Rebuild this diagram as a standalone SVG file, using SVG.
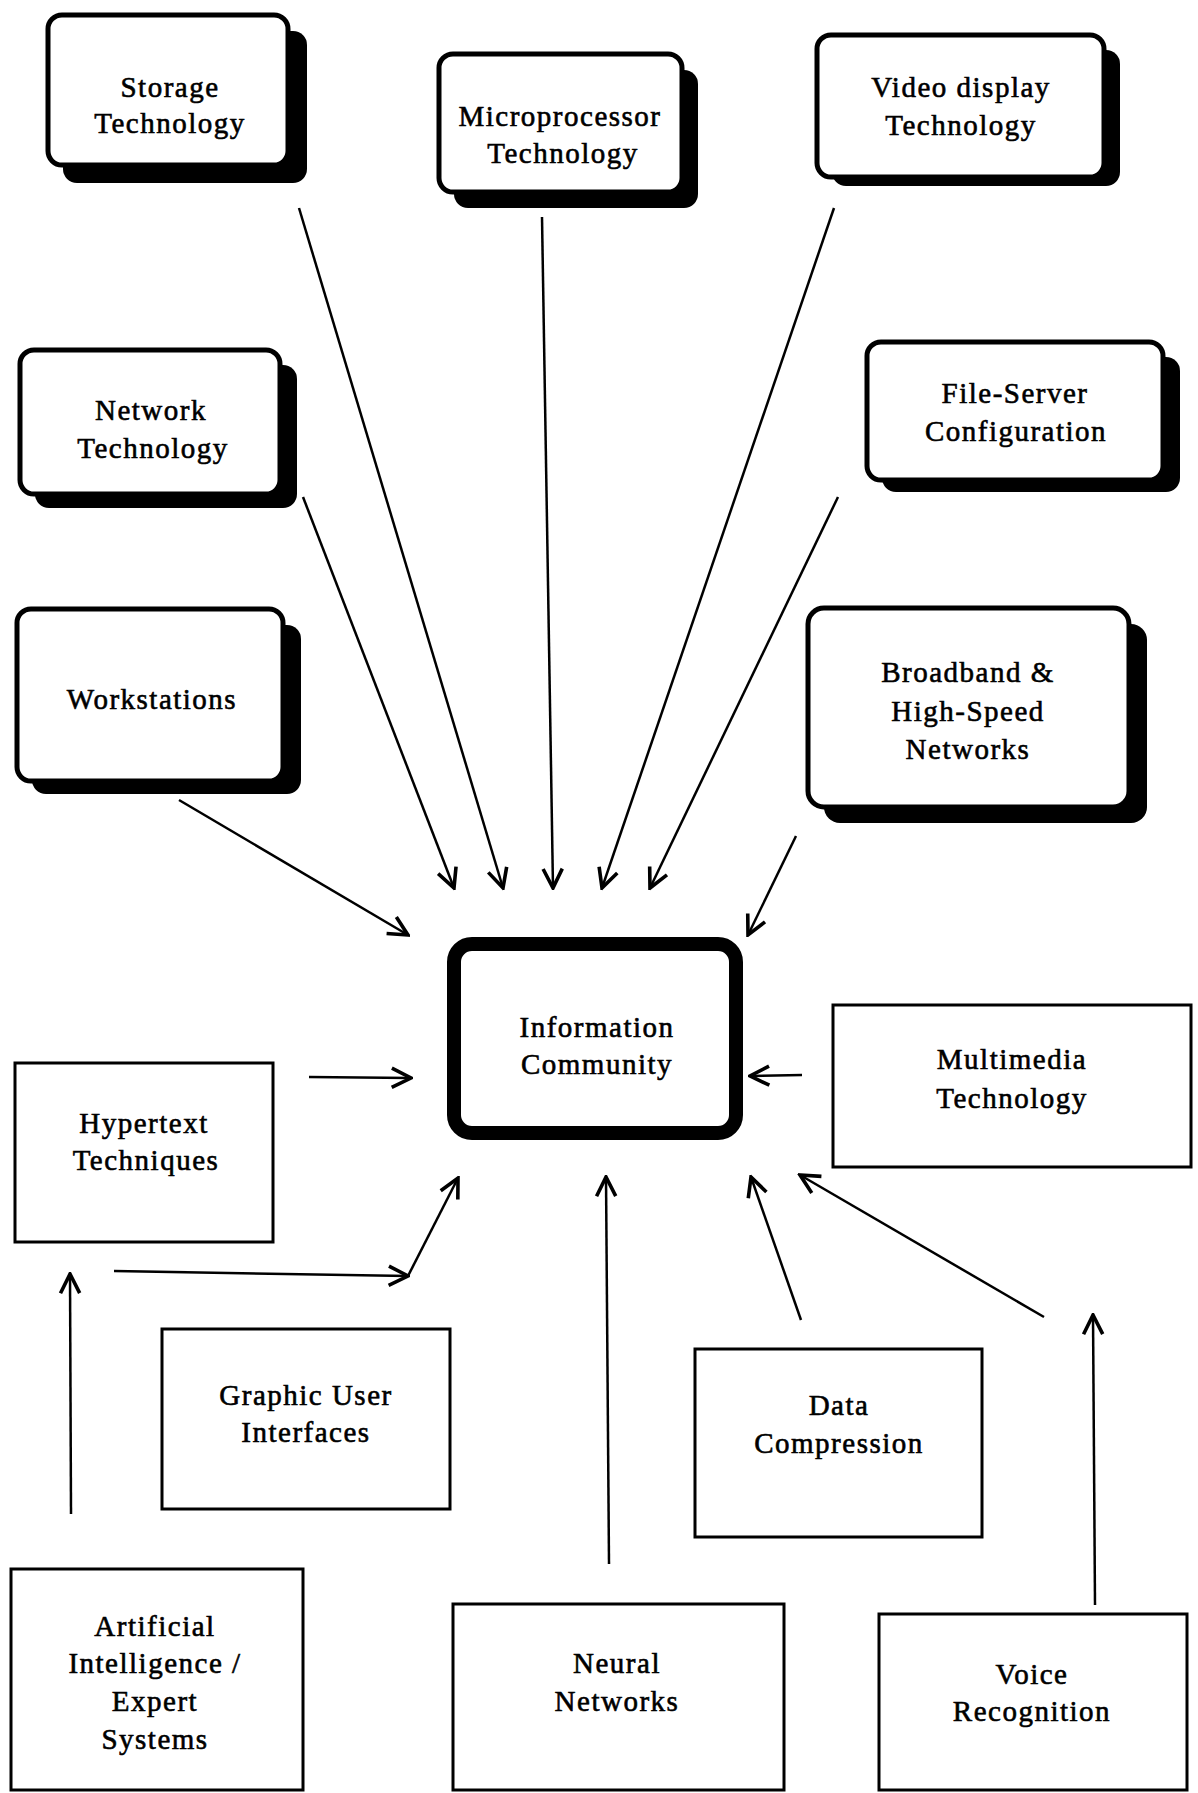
<svg xmlns="http://www.w3.org/2000/svg" width="1198" height="1793" viewBox="0 0 1198 1793">
  <defs>
    <marker id="head" markerUnits="userSpaceOnUse" markerWidth="24" markerHeight="24" viewBox="0 0 20 20" refX="18" refY="10" orient="auto">
      <path d="M2,2 L18,10 L2,18" fill="none" stroke="#000" stroke-width="3" stroke-linejoin="miter"/>
    </marker>
  </defs>
  <style>
    .bg { fill: #fff; }
    .shadow { fill: #000; }
    .card { fill: #fff; stroke: #000; stroke-width: 5; }
    .hub { fill: #fff; stroke: #000; stroke-width: 14; }
    .plain { fill: #fff; stroke: #000; stroke-width: 3; }
    .label { font-family: "Liberation Serif", "Times New Roman", serif; font-size: 29px; letter-spacing: 1.5px; text-anchor: middle; fill: #000; stroke: #000; stroke-width: 0.6; }
    .link { fill: none; stroke: #000; stroke-width: 2.5; marker-end: url(#head); }
  </style>

  <rect class="bg" x="0" y="0" width="1198" height="1793"/>

  <!-- shadowed rounded cards -->
  <g id="storage-technology">
    <rect class="shadow" x="63" y="31" width="244" height="152" rx="14"/>
    <rect class="card" x="48" y="15" width="240" height="150" rx="14"/>
    <text class="label" x="170" y="97">Storage</text>
    <text class="label" x="170" y="133">Technology</text>
  </g>

  <g id="microprocessor-technology">
    <rect class="shadow" x="454" y="70" width="244" height="138" rx="14"/>
    <rect class="card" x="439" y="54" width="243" height="138" rx="14"/>
    <text class="label" x="560" y="126">Microprocessor</text>
    <text class="label" x="563" y="163">Technology</text>
  </g>

  <g id="video-display-technology">
    <rect class="shadow" x="832" y="50" width="288" height="136" rx="14"/>
    <rect class="card" x="817" y="35" width="287" height="142" rx="14"/>
    <text class="label" x="961" y="97">Video display</text>
    <text class="label" x="961" y="135">Technology</text>
  </g>

  <g id="network-technology">
    <rect class="shadow" x="35" y="365" width="262" height="143" rx="14"/>
    <rect class="card" x="20" y="350" width="260" height="144" rx="14"/>
    <text class="label" x="151" y="420">Network</text>
    <text class="label" x="153" y="458">Technology</text>
  </g>

  <g id="file-server-configuration">
    <rect class="shadow" x="882" y="357" width="298" height="135" rx="14"/>
    <rect class="card" x="867" y="342" width="296" height="138" rx="14"/>
    <text class="label" x="1015" y="403">File-Server</text>
    <text class="label" x="1016" y="441">Configuration</text>
  </g>

  <g id="workstations">
    <rect class="shadow" x="32" y="625" width="269" height="169" rx="14"/>
    <rect class="card" x="17" y="609" width="266" height="172" rx="14"/>
    <text class="label" x="152" y="709">Workstations</text>
  </g>

  <g id="broadband-high-speed-networks">
    <rect class="shadow" x="824" y="624" width="323" height="199" rx="16"/>
    <rect class="card" x="808" y="608" width="321" height="199" rx="16"/>
    <text class="label" x="968" y="682">Broadband &amp;</text>
    <text class="label" x="968" y="721">High-Speed</text>
    <text class="label" x="968" y="759">Networks</text>
  </g>

  <!-- central node -->
  <g id="information-community">
    <rect class="hub" x="454" y="944" width="282" height="189" rx="18"/>
    <text class="label" x="597" y="1037">Information</text>
    <text class="label" x="597" y="1074">Community</text>
  </g>

  <!-- plain rectangles -->
  <g id="hypertext-techniques">
    <rect class="plain" x="15" y="1063" width="258" height="179"/>
    <text class="label" x="144" y="1133">Hypertext</text>
    <text class="label" x="146" y="1170">Techniques</text>
  </g>

  <g id="multimedia-technology">
    <rect class="plain" x="833" y="1005" width="358" height="162"/>
    <text class="label" x="1012" y="1069">Multimedia</text>
    <text class="label" x="1012" y="1108">Technology</text>
  </g>

  <g id="graphic-user-interfaces">
    <rect class="plain" x="162" y="1329" width="288" height="180"/>
    <text class="label" x="306" y="1405">Graphic User</text>
    <text class="label" x="306" y="1442">Interfaces</text>
  </g>

  <g id="data-compression">
    <rect class="plain" x="695" y="1349" width="287" height="188"/>
    <text class="label" x="839" y="1415">Data</text>
    <text class="label" x="839" y="1453">Compression</text>
  </g>

  <g id="ai-expert-systems">
    <rect class="plain" x="11" y="1569" width="292" height="221"/>
    <text class="label" x="155" y="1636">Artificial</text>
    <text class="label" x="155" y="1673">Intelligence /</text>
    <text class="label" x="155" y="1711">Expert</text>
    <text class="label" x="155" y="1749">Systems</text>
  </g>

  <g id="neural-networks">
    <rect class="plain" x="453" y="1604" width="331" height="186"/>
    <text class="label" x="617" y="1673">Neural</text>
    <text class="label" x="617" y="1711">Networks</text>
  </g>

  <g id="voice-recognition">
    <rect class="plain" x="879" y="1614" width="308" height="176"/>
    <text class="label" x="1032" y="1684">Voice</text>
    <text class="label" x="1032" y="1721">Recognition</text>
  </g>

  <!-- connectors -->
  <g id="connectors">
    <path class="link" d="M299,208 L503,888"/>
    <path class="link" d="M542,217 L553,888"/>
    <path class="link" d="M834,208 L602,888"/>
    <path class="link" d="M303,497 L454,888"/>
    <path class="link" d="M838,497 L650,888"/>
    <path class="link" d="M179,800 L408,935"/>
    <path class="link" d="M796,836 L748,935"/>
    <path class="link" d="M309,1077 L411,1078"/>
    <path class="link" d="M802,1075 L750,1076"/>
    <path class="link" d="M114,1271 L408,1276"/>
    <path class="link" d="M408,1276 L458,1178"/>
    <path class="link" d="M71,1514 L70,1274"/>
    <path class="link" d="M609,1564 L606,1177"/>
    <path class="link" d="M801,1320 L751,1177"/>
    <path class="link" d="M1044,1317 L800,1175"/>
    <path class="link" d="M1095,1605 L1093,1315"/>
  </g>
</svg>
